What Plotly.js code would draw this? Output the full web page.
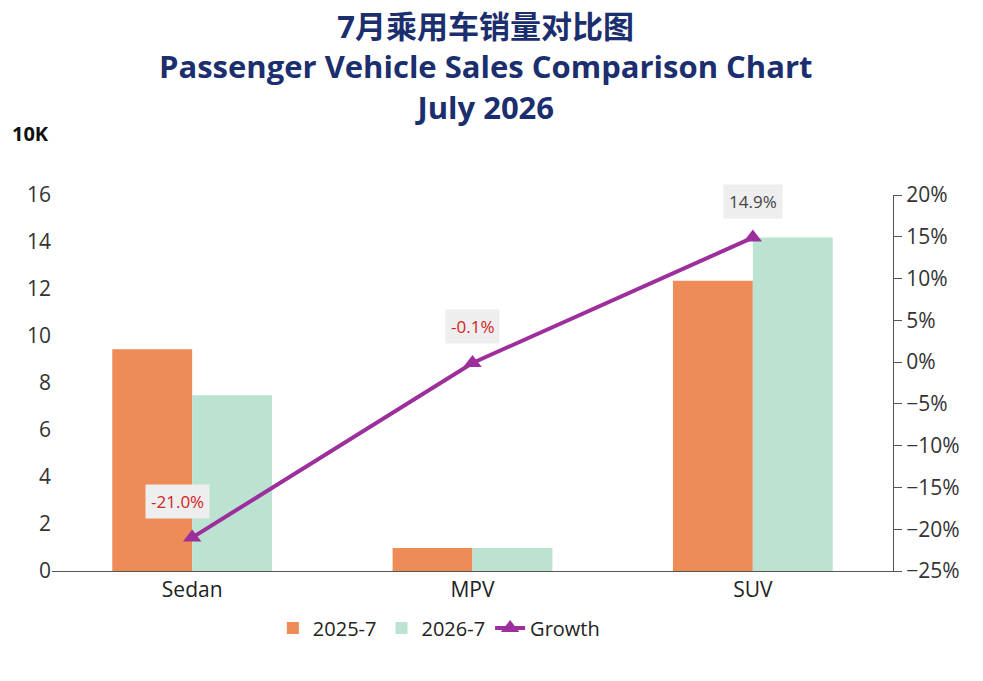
<!DOCTYPE html>
<html><head><meta charset="utf-8">
<script src="https://cdn.plot.ly/plotly-3.0.1.min.js"></script>
<style>body{margin:0;background:#fff}</style>
</head><body>
<div id="chart" style="width:983px;height:681px"></div>
<script>
var categories = ['Sedan', 'MPV', 'SUV']
var sales2025 = [9.44, 0.98, 12.35]
var sales2026 = [7.48, 0.98, 14.19]
var growth = [-21.0, -0.1, 14.9]
var growthLabels = ['-21.0%', '-0.1%', '14.9%']

var data = [{
    x: categories, y: sales2025, name: '2025-7', type: 'bar',
    marker: {color: '#EE8C58'}
}, {
    x: categories, y: sales2026, name: '2026-7', type: 'bar',
    marker: {color: '#BCE3D2'}
}, {
    x: categories, y: growth, name: 'Growth', yaxis: 'y2',
    type: 'scatter', mode: 'lines+markers',
    line: {color: '#9C2F9C', width: 4},
    marker: {symbol: 'triangle-up', size: 16, color: '#9C2F9C'}
}]

var annotations = categories.map((c, i) => ({
    x: c, y: growth[i], yref: 'y2', text: growthLabels[i],
    showarrow: false, yshift: 36, xshift: i == 0 ? -15 : 0,
    bgcolor: '#eeeeee', borderpad: 5,
    font: {size: 17, color: growth[i] < 0 ? '#d02525' : '#444'}
}))
annotations.push({
    xref: 'paper', yref: 'paper', x: -0.05, y: 1.205, xanchor: 'left',
    text: '<b>10K</b>', showarrow: false, font: {size: 20, color: '#111'}
})
// title as annotation so all three lines stay inside the page
annotations.push({
    xref: 'paper', yref: 'paper', x: 0.515, y: 1.51, yanchor: 'top',
    showarrow: false,
    text: '<b>7月乘用车销量对比图<br>Passenger Vehicle Sales Comparison Chart<br>July 2026</b>',
    font: {size: 31, color: '#1B2E6E', family: 'Open Sans, Noto Sans CJK SC, sans-serif'}
})

var layout = {
    width: 983, height: 681,
    margin: {l: 52, r: 90, t: 195, b: 110},
    font: {family: 'Open Sans, sans-serif', color: '#333'},
    barmode: 'group', bargap: 0.43, bargroupgap: 0,
    xaxis: {
        showline: true, linecolor: '#555', ticks: '',
        tickfont: {size: 21, color: '#222'}
    },
    yaxis: {
        range: [0, 16], dtick: 2, showgrid: false, zeroline: false,
        tickfont: {size: 21, color: '#333'}
    },
    yaxis2: {
        overlaying: 'y', side: 'right', range: [-25, 20], dtick: 5,
        showgrid: false, zeroline: false, showline: true, linecolor: '#555',
        ticks: 'outside', ticklen: 8, tickcolor: '#555', ticksuffix: '%',
        tickfont: {size: 21, color: '#333'}
    },
    legend: {
        orientation: 'h', x: 0.46, xanchor: 'center', y: -0.1, yanchor: 'top',
        font: {size: 20, color: '#222'}
    },
    annotations: annotations,
    plot_bgcolor: '#fff', paper_bgcolor: '#fff'
}

Plotly.newPlot('chart', data, layout, {displayModeBar: false})
</script>
</body></html>
